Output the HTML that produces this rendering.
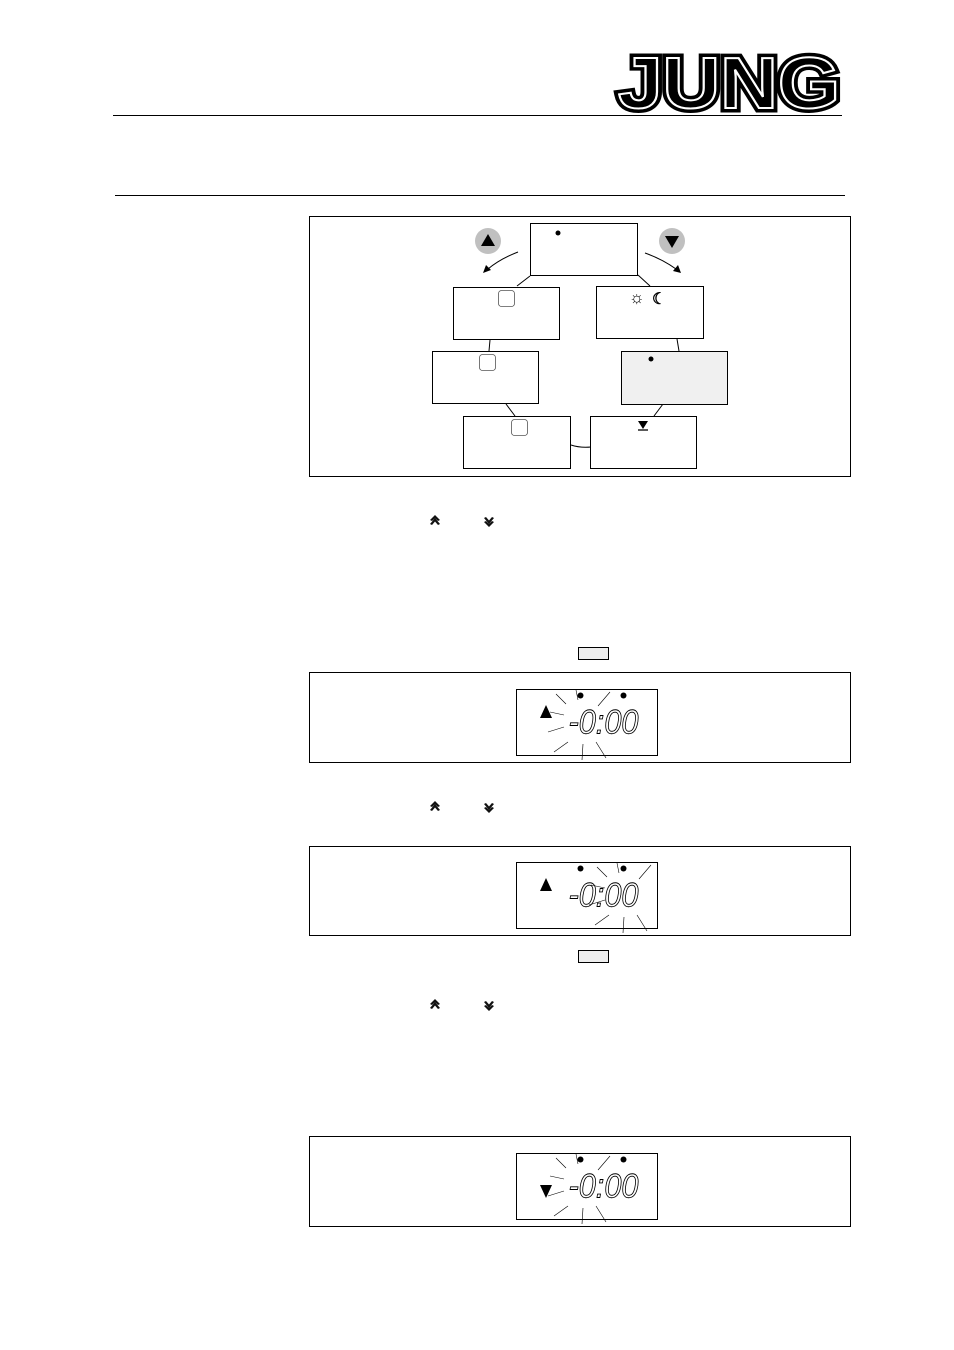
<!DOCTYPE html>
<html><head><meta charset="utf-8"><style>
html,body{margin:0;padding:0;background:#fff}
svg{display:block}
</style></head><body>
<svg width="954" height="1350" viewBox="0 0 954 1350" xmlns="http://www.w3.org/2000/svg" font-family="Liberation Sans, sans-serif">
<defs>
<g id="up"><path d="M-5,3 L0,-3 L5,3 L3,4 L0,0.5 L-3,4 Z M-5,-1 L0,-6 L5,-1 L3,0 L0,-3 L-3,0Z" fill="#111"/></g>
<g id="lcd">
<rect x="0" y="0" width="141" height="66" fill="#fff" stroke="#000" stroke-width="1"/>
<circle cx="64" cy="6" r="3" fill="#000"/><circle cx="107" cy="6" r="3" fill="#000"/>
<text x="52" y="44" font-size="34" font-style="italic" fill="#fff" stroke="#000" stroke-width="0.9" textLength="70" lengthAdjust="spacingAndGlyphs">-0:00</text>
</g>
<g id="rays" stroke="#000" stroke-width="0.6">
<line x1="-30" y1="-24" x2="-20" y2="-14"/><line x1="-36" y1="-6" x2="-22" y2="-3"/><line x1="-38" y1="14" x2="-22" y2="9"/>
<line x1="-32" y1="34" x2="-18" y2="24"/><line x1="-4" y1="42" x2="-3" y2="26"/><line x1="20" y1="40" x2="10" y2="24"/>
<line x1="24" y1="-26" x2="12" y2="-12"/><line x1="-10" y1="-28" x2="-8" y2="-18"/>
</g>
</defs>

<text x="729" y="108" font-size="72" font-weight="bold" text-anchor="middle" textLength="222" lengthAdjust="spacingAndGlyphs" fill="#fff" stroke="#000" stroke-width="9" stroke-linejoin="miter">JUNG</text>
<text x="729" y="108" font-size="72" font-weight="bold" text-anchor="middle" textLength="222" lengthAdjust="spacingAndGlyphs" fill="#000" stroke="#fff" stroke-width="2">JUNG</text>
<line x1="113" y1="115.5" x2="842" y2="115.5" stroke="#000" stroke-width="1"/>
<line x1="115" y1="195.5" x2="845" y2="195.5" stroke="#000" stroke-width="1"/>

<rect x="309.5" y="216.5" width="541" height="260" fill="none" stroke="#000"/>
<g stroke="#000" stroke-width="1" fill="none">
<line x1="530" y1="276" x2="517" y2="286"/><line x1="638" y1="275" x2="650" y2="286"/>
<line x1="490" y1="340" x2="489" y2="351"/><line x1="677" y1="339" x2="679" y2="351"/>
<line x1="506" y1="404" x2="515" y2="416"/><line x1="663" y1="404" x2="654" y2="416"/>
<path d="M571,445 Q580,448 591,447"/>
<path d="M518,252 Q500,259 488,269"/><path d="M645,253 Q662,259 676,269"/>
</g>
<path d="M483,273 L486,265 L491,270Z" fill="#000"/><path d="M681,273 L673,271 L678,265Z" fill="#000"/>
<circle cx="488" cy="241" r="13" fill="#c0c0c0"/><path d="M481,246 L488,234 L495,246Z" fill="#000"/>
<circle cx="672" cy="241" r="13" fill="#c0c0c0"/><path d="M665,236 L672,248 L679,236Z" fill="#000"/>
<g stroke="#000" fill="#fff">
<rect x="530.5" y="223.5" width="107" height="52"/>
<rect x="453.5" y="287.5" width="106" height="52"/>
<rect x="596.5" y="286.5" width="107" height="52"/>
<rect x="432.5" y="351.5" width="106" height="52"/>
<rect x="621.5" y="351.5" width="106" height="53" fill="#f0f0f0"/>
<rect x="463.5" y="416.5" width="107" height="52"/>
<rect x="590.5" y="416.5" width="106" height="52"/>
</g>
<circle cx="558" cy="233" r="2.5" fill="#000"/><circle cx="651" cy="359" r="2.5" fill="#000"/>
<g fill="#fff" stroke="#555" stroke-width="0.8">
<rect x="498.5" y="290.5" width="16" height="16" rx="3"/>
<rect x="479.5" y="354.5" width="16" height="16" rx="3"/>
<rect x="511.5" y="419.5" width="16" height="16" rx="3"/>
</g>
<text x="629" y="303" font-size="17" font-weight="bold">☼</text><text x="652" y="304" font-size="16" font-weight="bold">☾</text>
<path d="M638,421 L648,421 L643,429Z" fill="#000"/><line x1="638" y1="430" x2="648" y2="430" stroke="#000" stroke-width="1.3"/>

<use href="#up" x="435" y="521"/><use href="#up" transform="translate(489,521) scale(1,-1)"/>
<use href="#up" x="435" y="807"/><use href="#up" transform="translate(489,807) scale(1,-1)"/>
<use href="#up" x="435" y="1005"/><use href="#up" transform="translate(489,1005) scale(1,-1)"/>
<rect x="578.5" y="647.5" width="30" height="12" fill="#eee" stroke="#000"/>
<rect x="578.5" y="950.5" width="30" height="12" fill="#eee" stroke="#000"/>

<rect x="309.5" y="672.5" width="541" height="90" fill="none" stroke="#000"/>
<use href="#lcd" x="516.5" y="689.5"/>
<use href="#rays" x="586" y="718"/>
<path d="M540,718 L546,705 L552,718Z" fill="#000"/>

<rect x="309.5" y="846.5" width="541" height="89" fill="none" stroke="#000"/>
<use href="#lcd" x="516.5" y="862.5"/>
<use href="#rays" x="627" y="891"/>
<path d="M540,891 L546,878 L552,891Z" fill="#000"/>

<rect x="309.5" y="1136.5" width="541" height="90" fill="none" stroke="#000"/>
<use href="#lcd" x="516.5" y="1153.5"/>
<use href="#rays" x="586" y="1182"/>
<path d="M540,1185 L546,1198 L552,1185Z" fill="#000"/>
</svg>
</body></html>
